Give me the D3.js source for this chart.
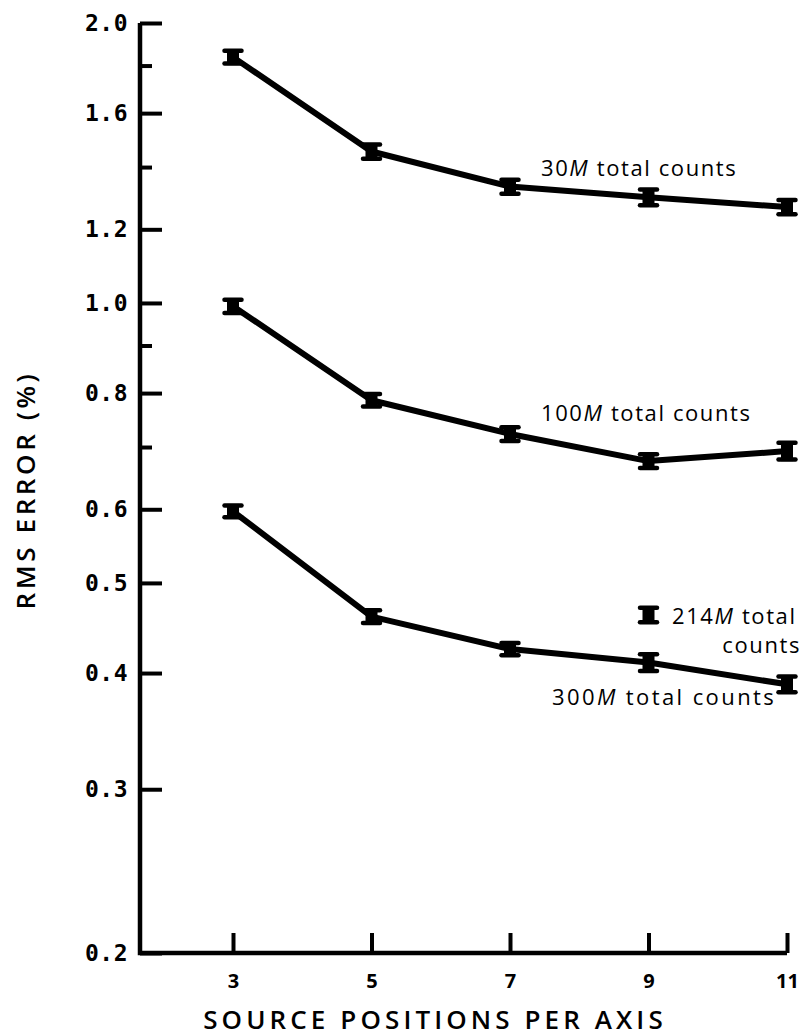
<!DOCTYPE html>
<html>
<head>
<meta charset="utf-8">
<script src="https://cdn.jsdelivr.net/npm/d3@7"></script>
<style>
  body { margin: 0; background: #fff; }
  svg { display: block; }
  .ytick text { font-family: "DejaVu Sans Mono", monospace; font-weight: bold; font-size: 23px; letter-spacing: 0.5px; }
  .xtick text { font-family: "Open Sans", sans-serif; font-weight: bold; font-size: 20px; }
  .note { font-family: "Open Sans", sans-serif; font-size: 22px; letter-spacing: 1.6px; fill: #000; }
  .title { font-family: "Open Sans", sans-serif; font-weight: 600; font-size: 26px; letter-spacing: 3.6px; fill: #000; }
</style>
</head>
<body>
<div id="chart"></div>
<script>
// source positions per axis
var positions = [3, 5, 7, 9, 11];

// RMS error (%) per series, with half-height of error bar
var rms30M  = [1.838, 1.455, 1.334, 1.299, 1.268];
var err30M  = [0.036, 0.031, 0.028, 0.030, 0.027];
var rms100M = [0.992, 0.786, 0.723, 0.676, 0.693];
var err100M = [0.020, 0.015, 0.015, 0.014, 0.017];
var rms300M = [0.597, 0.460, 0.4245, 0.4106, 0.389];
var err300M = [0.011, 0.009, 0.008, 0.010, 0.009];

// single 214M point
var pos214M = [9];
var rms214M = [0.462];
var err214M = [0.010];

var yMajorTicks = [0.2, 0.3, 0.4, 0.5, 0.6, 0.8, 1.0, 1.2, 1.6, 2.0];
var yMinorTicks = [0.7, 0.9, 1.4, 1.8];

var width = 803, height = 1036;

var x = d3.scaleLinear().domain([3, 11]).range([233, 787]);
var y = d3.scaleLog().domain([0.2, 2.0]).range([953, 23]);

var svg = d3.select("#chart").append("svg")
    .attr("width", width)
    .attr("height", height);

function toPoints(xs, vals, errs) {
  return xs.map(function (p, i) {
    return {x: p, v: vals[i], e: errs[i]};
  });
}

var series = [
  toPoints(positions, rms30M, err30M),
  toPoints(positions, rms100M, err100M),
  toPoints(positions, rms300M, err300M)
];
var single = toPoints(pos214M, rms214M, err214M);

// y axis: major ticks point inward, labels on the left
var yAxisG = svg.append("g")
    .attr("class", "ytick")
    .attr("transform", "translate(140,0)")
    .call(d3.axisLeft(y).tickValues(yMajorTicks).tickSize(-22).tickPadding(12)
        .tickFormat(d3.format(".1f")));
yAxisG.select(".domain").remove();
yAxisG.selectAll("line").attr("stroke", "#000").attr("stroke-width", 4);

var yMinorG = svg.append("g")
    .attr("transform", "translate(140,0)")
    .call(d3.axisLeft(y).tickValues(yMinorTicks).tickSize(-12).tickFormat(""));
yMinorG.select(".domain").remove();
yMinorG.selectAll("line").attr("stroke", "#000").attr("stroke-width", 4);

// x axis: ticks up, labels below
var xAxisG = svg.append("g")
    .attr("class", "xtick")
    .attr("transform", "translate(0,953)")
    .call(d3.axisBottom(x).tickValues(positions).tickSize(-20).tickPadding(21));
xAxisG.select(".domain").remove();
xAxisG.selectAll("line").attr("stroke", "#000").attr("stroke-width", 4);

// axis frame
svg.append("path")
    .attr("d", "M140," + y(2.0) + "V" + y(0.2) + "H" + x(11))
    .attr("fill", "none")
    .attr("stroke", "#000")
    .attr("stroke-width", 4.5);

// connecting lines
var line = d3.line()
    .x(function (d) { return x(d.x); })
    .y(function (d) { return y(d.v); });

svg.selectAll("path.series")
    .data(series)
    .enter().append("path")
    .attr("class", "series")
    .attr("d", line)
    .attr("fill", "none")
    .attr("stroke", "#000")
    .attr("stroke-width", 6)
    .attr("stroke-linejoin", "round");

// error bar spools
function drawBars(points) {
  var g = svg.append("g").selectAll("g")
      .data(points)
      .enter().append("g");
  g.append("rect")
      .attr("x", function (d) { return x(d.x) - 6; })
      .attr("y", function (d) { return y(d.v + d.e); })
      .attr("width", 12)
      .attr("height", function (d) { return y(d.v - d.e) - y(d.v + d.e); })
      .attr("fill", "#000");
  [1, -1].forEach(function (s) {
    g.append("line")
        .attr("x1", function (d) { return x(d.x) - 8.5; })
        .attr("x2", function (d) { return x(d.x) + 8.5; })
        .attr("y1", function (d) { return y(d.v + s * d.e) + s * 1.5; })
        .attr("y2", function (d) { return y(d.v + s * d.e) + s * 1.5; })
        .attr("stroke", "#000")
        .attr("stroke-width", 4.5)
        .attr("stroke-linecap", "round");
  });
}
series.forEach(drawBars);
drawBars(single);

// series notes
function note(xp, yp, num, rest, anchor) {
  var t = svg.append("text")
      .attr("class", "note")
      .attr("x", xp)
      .attr("y", yp)
      .attr("text-anchor", anchor || "start");
  if (num) {
    t.append("tspan").text(num);
    t.append("tspan").attr("font-style", "italic").text("M");
  }
  t.append("tspan").text(rest);
  return t;
}
note(541, 176, "30", " total counts");
note(541, 421, "100", " total counts");
note(672, 624, "214", " total");
note(801, 653, null, "counts", "end");
note(552, 705, "300", " total counts").style("letter-spacing", "2.4px");

// axis titles
svg.append("text")
    .attr("class", "title")
    .attr("text-anchor", "middle")
    .attr("transform", "translate(35,490) rotate(-90)")
    .text("RMS ERROR (%)");

svg.append("text")
    .attr("class", "title")
    .attr("text-anchor", "middle")
    .attr("x", 435)
    .attr("y", 1029)
    .style("letter-spacing", "4.1px")
    .text("SOURCE POSITIONS PER AXIS");
</script>
</body>
</html>
